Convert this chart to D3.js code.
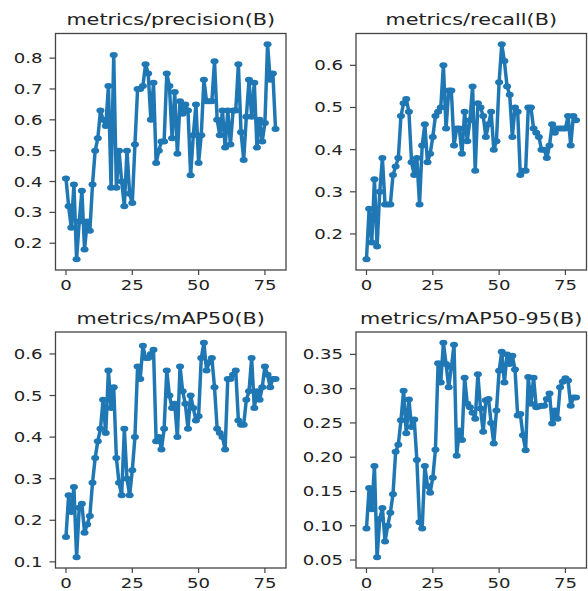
<!DOCTYPE html>
<html>
<head>
<meta charset="utf-8">
<script src="https://cdn.jsdelivr.net/npm/d3@7/dist/d3.min.js"></script>
<style>
  body { margin: 0; background: #fff; }
  text { font-family: "DejaVu Sans", sans-serif; fill: #222; }
</style>
</head>
<body>
<div id="chart"></div>
<script>
// 数据（从图上读出的每个 epoch 的数值）
const precision = [0.41, 0.32, 0.25, 0.39, 0.148, 0.27, 0.37, 0.18, 0.27, 0.24,
    0.39, 0.50, 0.54, 0.63, 0.60, 0.58, 0.71, 0.38, 0.81, 0.38,
    0.50, 0.40, 0.32, 0.50, 0.36, 0.33, 0.52, 0.70, 0.70, 0.71,
    0.78, 0.75, 0.60, 0.72, 0.46, 0.50, 0.53, 0.53, 0.75, 0.71,
    0.54, 0.69, 0.49, 0.66, 0.62, 0.65, 0.63, 0.42, 0.55, 0.65,
    0.46, 0.55, 0.73, 0.66, 0.66, 0.66, 0.79, 0.60, 0.55, 0.63,
    0.51, 0.63, 0.52, 0.63, 0.63, 0.78, 0.56, 0.47, 0.61, 0.73,
    0.61, 0.72, 0.51, 0.60, 0.53, 0.59, 0.845, 0.73, 0.75, 0.57];
const recall = [0.14, 0.26, 0.18, 0.33, 0.17, 0.30, 0.38, 0.27, 0.27, 0.27,
    0.34, 0.36, 0.38, 0.48, 0.51, 0.52, 0.49, 0.37, 0.34, 0.38,
    0.27, 0.41, 0.46, 0.37, 0.39, 0.43, 0.48, 0.49, 0.50, 0.60,
    0.45, 0.54, 0.54, 0.41, 0.45, 0.45, 0.39, 0.49, 0.42, 0.47,
    0.55, 0.35, 0.51, 0.50, 0.48, 0.43, 0.46, 0.49, 0.40, 0.42,
    0.56, 0.65, 0.61, 0.55, 0.53, 0.43, 0.50, 0.49, 0.34, 0.35,
    0.35, 0.50, 0.50, 0.45, 0.44, 0.43, 0.40, 0.40, 0.38, 0.41,
    0.46, 0.44, 0.45, 0.45, 0.45, 0.45, 0.48, 0.41, 0.48, 0.47];
const mAP50 = [0.16, 0.26, 0.22, 0.28, 0.111, 0.23, 0.24, 0.17, 0.19, 0.21,
    0.29, 0.35, 0.39, 0.42, 0.49, 0.41, 0.56, 0.47, 0.52, 0.35,
    0.29, 0.26, 0.42, 0.30, 0.26, 0.32, 0.40, 0.57, 0.54, 0.62,
    0.59, 0.59, 0.60, 0.61, 0.39, 0.40, 0.37, 0.42, 0.56, 0.50,
    0.47, 0.48, 0.40, 0.57, 0.51, 0.48, 0.42, 0.50, 0.47, 0.44,
    0.45, 0.59, 0.627, 0.56, 0.58, 0.59, 0.52, 0.42, 0.41, 0.40,
    0.37, 0.54, 0.54, 0.55, 0.56, 0.44, 0.43, 0.43, 0.49, 0.51,
    0.59, 0.47, 0.51, 0.49, 0.52, 0.57, 0.55, 0.52, 0.54, 0.54];
const mAP5095 = [0.096, 0.155, 0.124, 0.187, 0.054, 0.110, 0.126, 0.077, 0.100, 0.119,
    0.146, 0.208, 0.218, 0.254, 0.297, 0.235, 0.284, 0.244, 0.255, 0.196,
    0.105, 0.096, 0.187, 0.158, 0.148, 0.170, 0.211, 0.337, 0.309, 0.367,
    0.336, 0.302, 0.331, 0.364, 0.202, 0.239, 0.225, 0.316, 0.278, 0.273,
    0.265, 0.256, 0.321, 0.271, 0.237, 0.283, 0.285, 0.250, 0.220, 0.268,
    0.326, 0.354, 0.309, 0.350, 0.336, 0.348, 0.328, 0.261, 0.263, 0.232,
    0.210, 0.317, 0.278, 0.316, 0.273, 0.274, 0.275, 0.275, 0.285, 0.293,
    0.249, 0.268, 0.256, 0.302, 0.310, 0.315, 0.312, 0.275, 0.287, 0.287];

const titles = ["metrics/precision(B)", "metrics/recall(B)", "metrics/mAP50(B)", "metrics/mAP50-95(B)"];
const xTicks = [0, 25, 50, 75];
const yTicksPrecision = [0.2, 0.3, 0.4, 0.5, 0.6, 0.7, 0.8];
const yTicksRecall = [0.2, 0.3, 0.4, 0.5, 0.6];
const yTicksMap50 = [0.1, 0.2, 0.3, 0.4, 0.5, 0.6];
const yTicksMap5095 = [0.05, 0.10, 0.15, 0.20, 0.25, 0.30, 0.35];

const seriesList = [precision, recall, mAP50, mAP5095];
const yTickList = [yTicksPrecision, yTicksRecall, yTicksMap50, yTicksMap5095];
const yFormats = [d3.format(".1f"), d3.format(".1f"), d3.format(".1f"), d3.format(".2f")];

// 画布
const W = 588, H = 591;
const sx = 1.34; // 原图横向被拉伸，文字和点也一起拉宽
const colLeft = [55.5, 356], colWidth = 230.5;
const rowTop = [33.5, 332], rowHeight = [236.5, 236];
const lineColor = "#1f77b4";

const svg = d3.select("#chart")
    .append("svg")
    .attr("width", W)
    .attr("height", H);

seriesList.forEach((values, k) => {
    const col = k % 2, row = Math.floor(k / 2);
    const w = colWidth, h = rowHeight[row];
    const data = values.map((v, i) => ({epoch: i, value: v}));

    const g = svg.append("g")
        .attr("transform", `translate(${colLeft[col]},${rowTop[row]})`);

    // 比例尺，matplotlib 默认 5% 边距
    const n = values.length - 1;
    const x = d3.scaleLinear()
        .domain([-0.05 * n, n * 1.05])
        .range([0, w]);
    const [lo, hi] = d3.extent(values);
    const pad = (hi - lo) * 0.05;
    const y = d3.scaleLinear()
        .domain([lo - pad, hi + pad])
        .range([h, 0]);

    // 折线和点（放在横向拉伸的组里）
    const xs = x.copy().range([0, w / sx]);
    const plot = g.append("g")
        .attr("transform", `scale(${sx},1)`);

    plot.append("path")
        .datum(data)
        .attr("fill", "none")
        .attr("stroke", lineColor)
        .attr("stroke-width", 2.6)
        .attr("stroke-linejoin", "round")
        .attr("d", d3.line().x(d => xs(d.epoch)).y(d => y(d.value)));

    plot.selectAll("circle")
        .data(data)
        .enter().append("circle")
        .attr("cx", d => xs(d.epoch))
        .attr("cy", d => y(d.value))
        .attr("r", 3)
        .attr("fill", lineColor);

    // 边框
    g.append("rect")
        .attr("width", w)
        .attr("height", h)
        .attr("fill", "none")
        .attr("stroke", "#444")
        .attr("stroke-width", 1.3);

    // X 轴
    const xAxis = g.append("g").attr("transform", `translate(0,${h})`);
    xTicks.forEach(t => {
        xAxis.append("line")
            .attr("x1", x(t)).attr("x2", x(t))
            .attr("y1", 0).attr("y2", 5)
            .attr("stroke", "#444").attr("stroke-width", 1.2);
        xAxis.append("text")
            .attr("transform", `translate(${x(t)},20) scale(${sx},1)`)
            .attr("text-anchor", "middle")
            .style("font-size", "13.5px")
            .text(t);
    });

    // Y 轴
    const yAxis = g.append("g");
    yTickList[k].forEach(t => {
        yAxis.append("line")
            .attr("x1", -6).attr("x2", 0)
            .attr("y1", y(t)).attr("y2", y(t))
            .attr("stroke", "#444").attr("stroke-width", 1.2);
        yAxis.append("text")
            .attr("transform", `translate(-13,${y(t) + 5}) scale(${sx},1)`)
            .attr("text-anchor", "end")
            .style("font-size", "13.5px")
            .text(yFormats[k](t));
    });

    // 标题
    g.append("text")
        .attr("transform", `translate(${w / 2},-8.5) scale(${sx},1)`)
        .attr("text-anchor", "middle")
        .style("font-size", "15.5px")
        .text(titles[k]);
});
</script>
</body>
</html>
